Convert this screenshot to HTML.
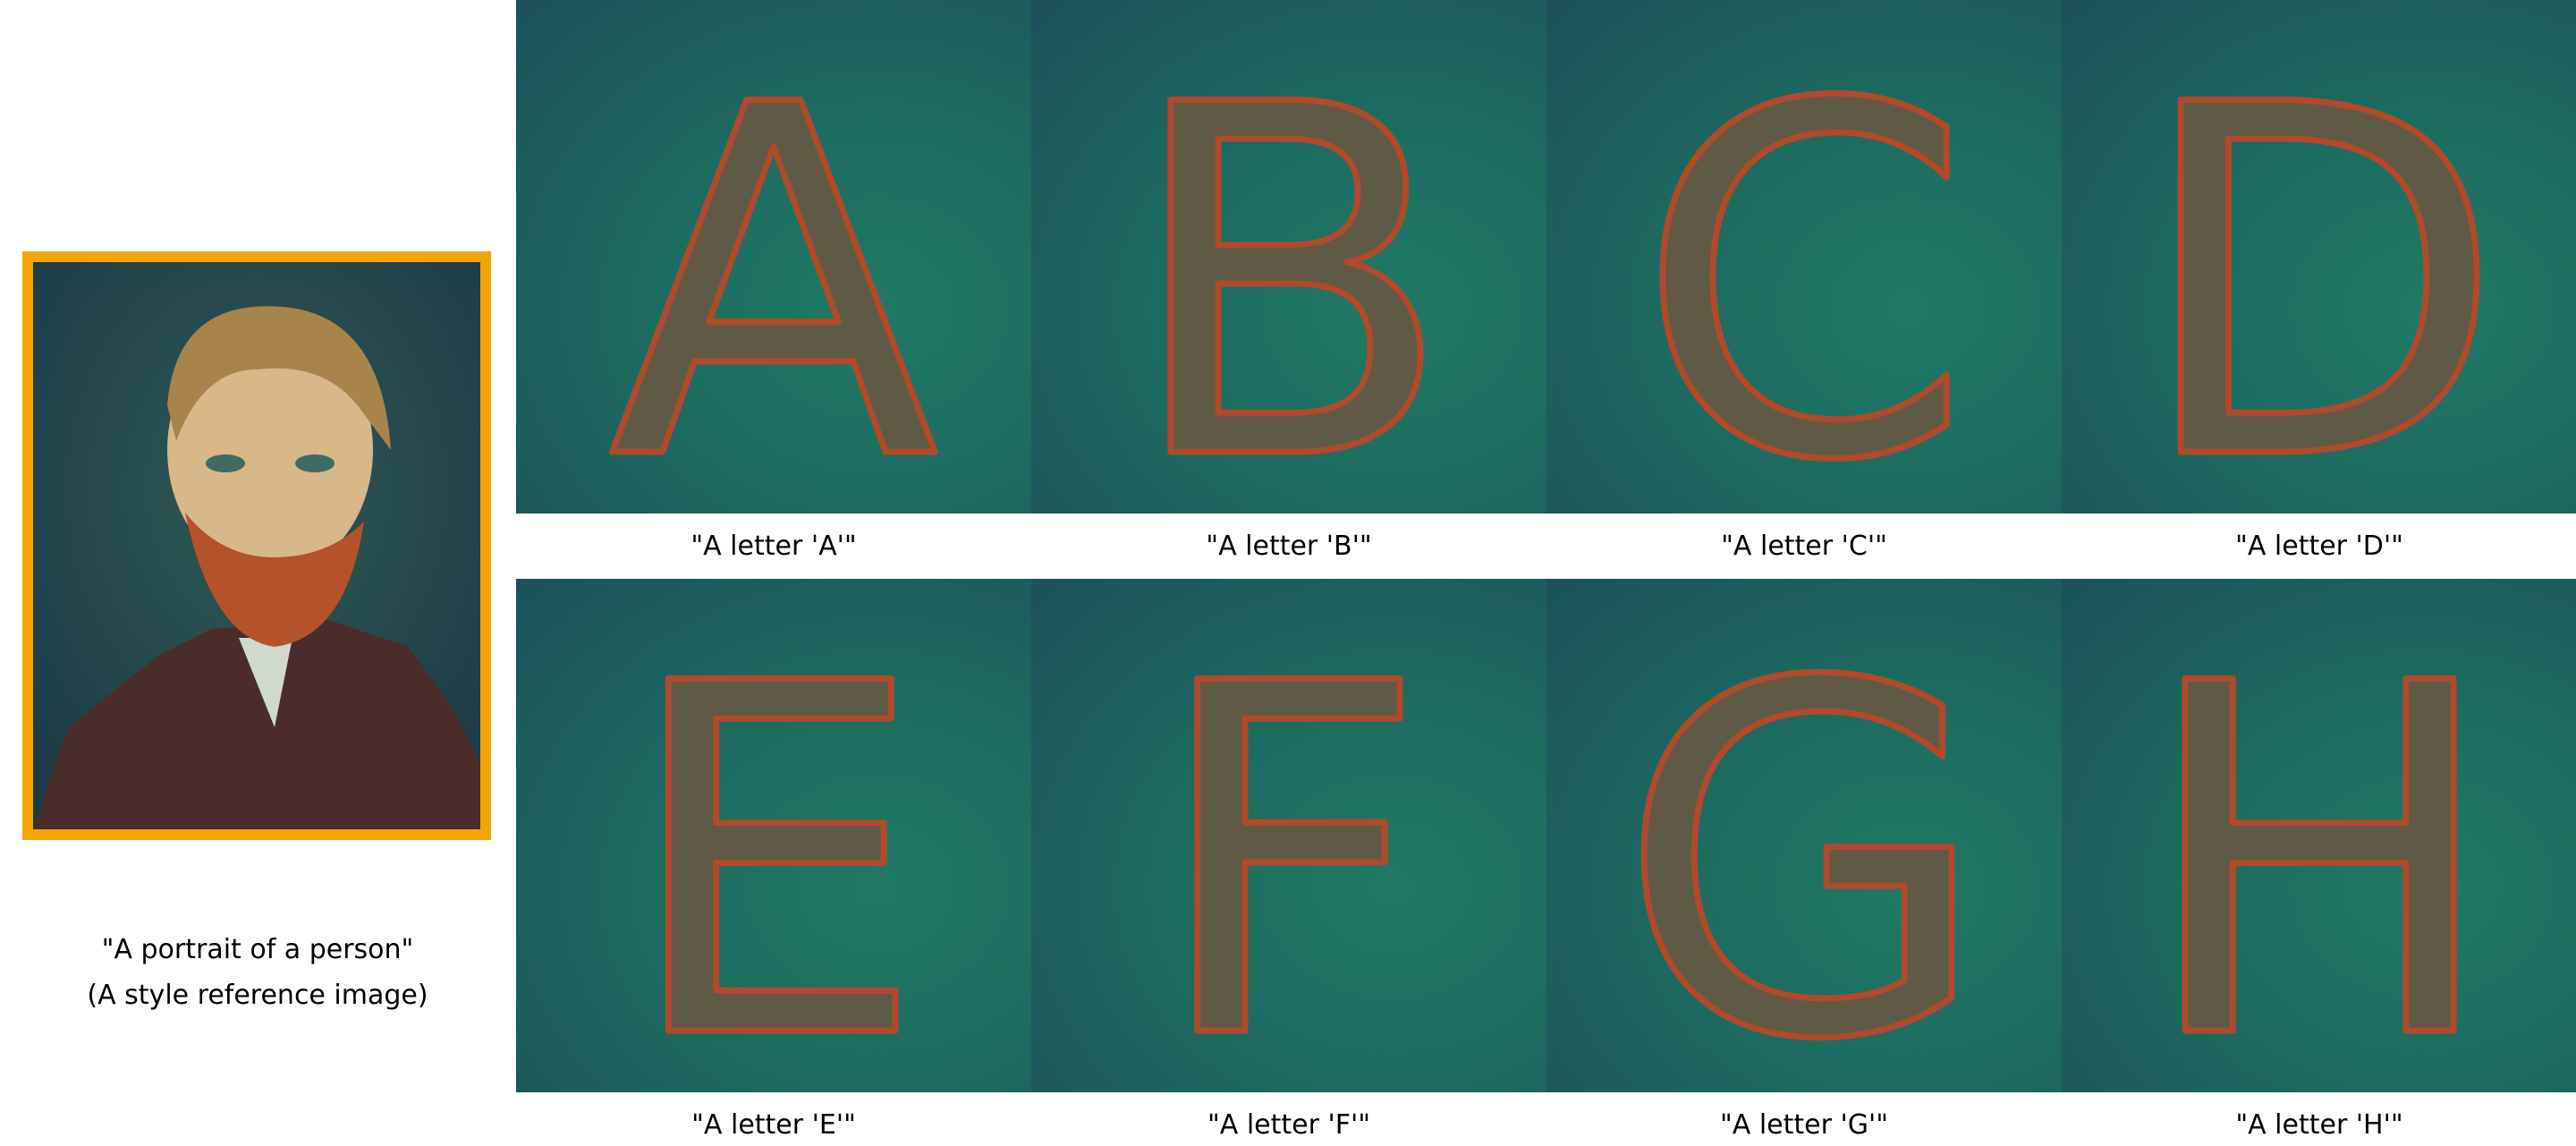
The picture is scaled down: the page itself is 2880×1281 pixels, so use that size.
<!DOCTYPE html>
<html><head><meta charset="utf-8"><style>
body{margin:0;width:2880px;height:1281px;background:#fff;position:relative;overflow:hidden;font-family:"DejaVu Sans","Liberation Sans",sans-serif}
.panel{position:absolute;width:576px;height:574px;overflow:hidden;background:radial-gradient(ellipse at 70% 60%,#1f7a64 0%,#1d6b60 45%,#1b5159 100%)}
.panel svg{position:absolute;left:0;top:0}
.lbl{position:absolute;width:576px;text-align:center;font-size:30px;color:#000}
.left{position:absolute;width:576px;left:0;text-align:center;font-size:30px;color:#000}
</style></head><body>
<div style="position:absolute;left:25px;top:281px;width:524px;height:658px;background:#f5a500">
 <svg width="500" height="634" style="position:absolute;left:12px;top:12px">
  <defs><radialGradient id="pg" cx="50%" cy="40%" r="70%"><stop offset="0" stop-color="#2f5a55"/><stop offset="1" stop-color="#1d3a45"/></radialGradient></defs>
  <rect width="500" height="634" fill="url(#pg)"/>
  <path d="M0 634 L40 520 L140 440 L200 410 L330 400 L420 430 L470 500 L500 560 L500 634Z" fill="#4a2c2a"/>
  <path d="M230 420 L290 420 L270 520 Z" fill="#cfd9cc"/>
  <ellipse cx="265" cy="210" rx="115" ry="140" fill="#d6b889"/>
  <path d="M150 160 Q160 40 280 50 Q390 60 400 210 L370 170 Q330 110 250 120 Q190 120 160 200Z" fill="#a7844a"/>
  <path d="M170 280 Q200 420 270 430 Q350 420 370 290 Q330 330 270 330 Q210 330 170 280Z" fill="#b4532a"/>
  <ellipse cx="215" cy="225" rx="22" ry="10" fill="#3f6b63"/>
  <ellipse cx="315" cy="225" rx="22" ry="10" fill="#3f6b63"/>
 </svg>
</div>
<div class="left" style="top:1044px">"A portrait of a person"</div>
<div class="left" style="top:1095px">(A style reference image)</div>
<div id="grid"></div>
<script>
const letters=['A','B','C','D','E','F','G','H'];
const grid=document.getElementById('grid');
letters.forEach((L,i)=>{
 const col=i%4,row=Math.floor(i/4);
 const x=577+col*576,y=row?647:0;
 const p=document.createElement('div');
 p.className='panel';
 
 
 p.style.left=x+'px';p.style.top=y+'px';
 p.innerHTML='<svg width="576" height="574"><text x="288" y="505" text-anchor="middle" font-family="DejaVu Sans, Liberation Sans, sans-serif" font-size="540" fill="#5f5a45" stroke="#b04a2a" stroke-width="7" stroke-linejoin="round">'+L+'</text></svg>';
 grid.appendChild(p);
 const t=document.createElement('div');
 t.className='lbl';
 
 
 t.style.left=x+'px';t.style.top=(y+593)+'px';
 t.textContent='"A letter \''+L+'\'"';
 grid.appendChild(t);
});
</script>
</body></html>
